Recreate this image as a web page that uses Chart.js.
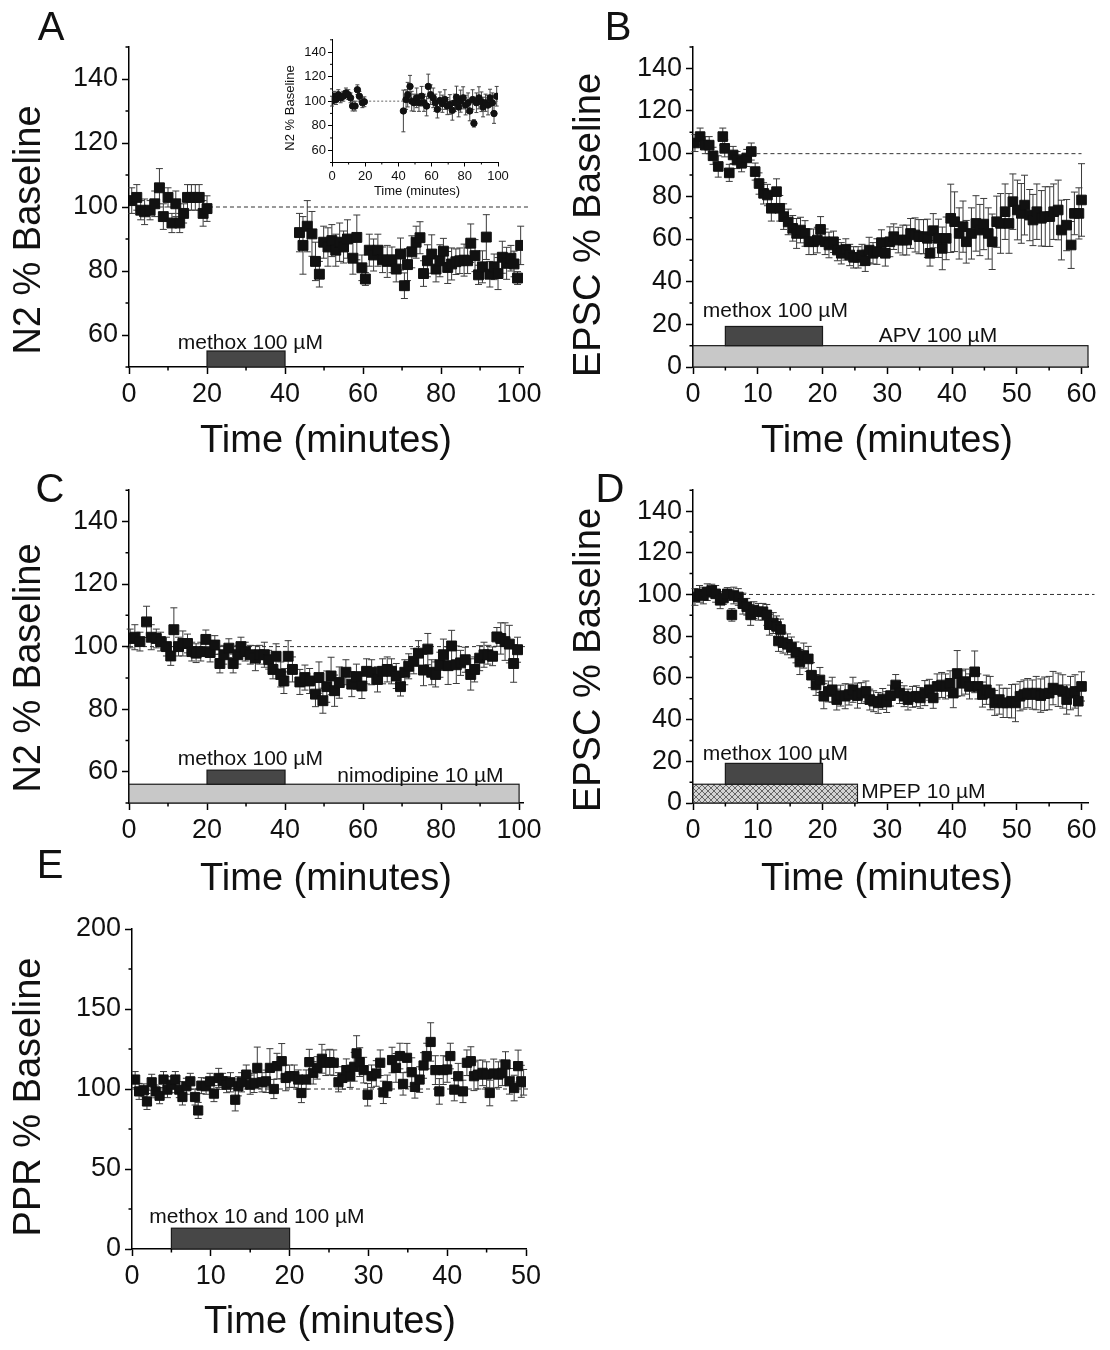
<!DOCTYPE html>
<html>
<head>
<meta charset="utf-8">
<script src="https://cdn.jsdelivr.net/npm/chart.js@4.4.1/dist/chart.umd.min.js"></script>
<style>
  html, body { margin: 0; padding: 0; background: #fff; }
  #fig { position: relative; width: 1110px; height: 1350px; }
  #fig canvas { position: absolute; }
</style>
</head>
<body>
<div id="fig">
  <canvas id="cA" width="555" height="470" style="left:0;top:0"></canvas>
  <canvas id="cInset" width="250" height="180" style="left:270px;top:30px"></canvas>
  <canvas id="cB" width="555" height="470" style="left:555px;top:0"></canvas>
  <canvas id="cC" width="555" height="430" style="left:0;top:470px"></canvas>
  <canvas id="cD" width="555" height="430" style="left:555px;top:470px"></canvas>
  <canvas id="cE" width="555" height="500" style="left:0;top:850px"></canvas>
</div>
<script>
const FONT = '"Liberation Sans", Arial, sans-serif';

// ── Panel A : N2 ────────────────────────────────────────────────────────────
const aTime  = [0.7,2,3,4,5.4,6.6,7.8,8.8,10,11,12,13,14,15,16,17,18,19,20,
  43.7,44.6,45.7,46.9,47.8,48.8,49.9,51,52,53,54,55,56,57.4,58.4,59.7,60.6,61.6,62.7,63.8,
  65,66.2,67.4,68.5,69.6,70.6,71.4,72.5,73.6,74.6,75.5,76.5,77.6,78.7,79.7,80.6,81.7,82.7,83.8,
  84.8,85.9,86.8,87.6,88.7,89.6,90.6,91.6,92.5,93.6,94.6,95.7,96.8,97.9,98.7,99.6,100.4];
const aValue = [102,103,99,98.5,99,101,106,97,103,95,101,95,98,103,103,103,103,98,99.5,
  92,88,94,91.6,83,79,89,87.5,89.5,86.5,89,87.5,90,84,90.5,81,77.5,86.5,85,86.5,
  83.5,83,83.5,80.6,85.3,75.4,82,86,89,90.4,79.2,83.2,85.3,80.6,83.2,86.2,81.1,82.2,82.9,
  83.2,83.4,83.2,88.7,84.8,78.8,81.3,90.6,79,81.3,79.2,84.3,82.4,84,82.2,77.8,88];
const aErr   = [4,4,3,4,3,4,6,4,3,3,4,3,3,4,4,4,4,4,4,
  6,9,8,7,6,4,5,6,5,5,6,5,6,5,7,4,2,5,5,5,
  4,5,4,4,5,4,5,5,5,5,4,5,6,4,5,4,5,5,4,
  4,5,4,6,5,3,5,7,4,4,5,5,5,4,4,2,6];
const aXTicks = [0, 20, 40, 60, 80, 100];
const aYTicks = [60, 80, 100, 120, 140];
const aMethox = [20, 40];

// inset of A
const insetTime  = [0,1.2,2.4,3.8,5.2,6.8,8.4,9.8,11.2,12.4,13.9,15.3,16.5,18.3,19.5,
  43,44.6,45.6,47,48,49.4,51,52.4,54,55.4,57,58,59.4,61,62.2,63.5,65,66.5,68,69.5,
  71,72.5,74,75,76.3,77.5,79,80.5,82,83,84.7,85.5,87,88.5,90,91,92.5,94,95.2,96.6,97.6,99.2];
const insetValue = [100,104,101.3,105.3,102.7,104,106.7,105.3,102.7,96,96,109.3,104,98.7,99.5,
  92,101.3,105.3,112,100,98.7,102.7,98.7,104,98.7,96,112,105.3,102.7,98.7,93.3,100.5,97.9,101.3,96,
  97.3,92.5,98.7,103.2,95.2,100,102.7,96.8,98.7,92,101.3,81.9,98.7,102.7,99.5,95.2,98.7,96.8,102.7,98.7,89.9,104];
const insetErr   = [4,4,4,4,4,4,4,4,4,4,4,4,4,4,4,
  17,8,10,9,8,7,8,7,8,7,8,10,8,8,7,7,7,7,8,7,
  8,8,7,9,8,9,9,8,8,8,8,3,8,9,8,8,7,8,7,8,8,8];
const insetXTicks = [0, 20, 40, 60, 80, 100];
const insetYTicks = [60, 80, 100, 120, 140];

// ── Panel B : EPSC, APV ──────────────────────────────────────────────────────
const bTime  = [0.3,1.1,1.9,2.5,3.1,3.9,4.6,4.9,5.6,6.2, 6.8,7.5,8.3,9,9.6,10.2,10.9,11.5,12.1,12.9,
  13.4,14,14.7,15.4,16,16.6,17.3,17.9,18.6,19.2, 19.7,20.4,21,21.7,22.3,22.9,23.6,24.2,24.8,25.5,
  26.1,26.6,27.2,27.8,28.4,29.1,29.7,30.4,31,31.7, 32.4,33,33.6,34.3,34.9,35.6,36.2,36.6,37.1,37.9,
  38.5,39.1,39.8,40.4,41.1,41.7,42.2,43,43.7,44.3, 44.9,45.6,46.2,46.9,47.5,48.2,48.8,49.4,50.1,50.7,
  51.2,52,52.5,53.1,53.8,54.4,55.1,55.7,56.4,56.9, 57.7,58.4,58.9,59.6,60];
const bValue = [105,108,104,104,99,94,108,102.5,91,99.4, 97,95.5,98,101,91.6,86,81.4,80.6,74.4,82.2,
  74.4,70.5,68,65,62.6,64.2,62.6,58.7,58.7,59.5, 64.5,58.7,57.2,58.7,54.8,53.3,55.1,52.5,51.4,51.4,
  52.5,49.8,54.8,53.3,54.1,58.3,53.3,58.7,61.1,59.5, 59.5,59.5,62.6,61.9,61.1,61.1,60.3,53.3,63.9,60.3,
  55.6,60.3,69.7,68.1,62.6,65.8,58.7,62.6,67.3,64.2, 67,62.6,58.7,68.1,67.3,72.8,67.3,77.5,73.6,72,
  75.9,71.2,68.9,72.8,69.7,70.5,70.5,72.8,73.6,64.2, 66.5,57.2,72,72,78.3];
const bErr   = [4,4,4,4,4,5,4,4,4,4, 4,4,4,4,4,5,5,5,6,6,
  6,6,6,6,7,6,6,6,6,6, 6,6,6,5,5,5,5,5,5,5,
  5,5,6,5,6,6,6,7,6,6, 7,7,7,8,8,8,9,6,8,9,
  10,10,16,14,12,12,10,12,13,12, 12,12,13,12,14,13,14,13,14,14,
  14,12,12,13,13,14,14,13,14,14, 12,11,10,12,17];
const bXTicks = [0, 10, 20, 30, 40, 50, 60];
const bYTicks = [0, 20, 40, 60, 80, 100, 120, 140];
const bMethox = [5, 20];
const bApv    = [0, 61];

// ── Panel C : N2, nimodipine ─────────────────────────────────────────────────
const cTime  = [0.3,1.5,2.8,4.5,5.7,7,8.1,9.6,10.7,11.5, 12.7,13.8,15,16.1,17.2,18.4,19.7,20.8,22,23.3,
  24.3,25.6,26.7,27.9,28.7,29.8,31.1,32.4,33.5,34.7, 35.8,36.9,37.7,38.9,39.7,40.8,41.9,43.8,45.1,46.3,
  47.8,48.7,49.7,50.7,51.8,52.7,53.9,55.6,57.1,58.3, 59.7,60.9,62.2,63.7,65,66.2,67.3,68.5,69.6,70.7,
  71.7,73,74.2,75.5,76.6,77.6,78.6,79.7,80.6,81.8, 82.7,83.9,85,86.2,87.6,88.6,89.9,91,92,93.2,
  94.3,95.3,96.4,97.5,98.6,99.6];
const cValue = [102.6,103,101.6,107.9,103,102.6,101.6,100,97,105.4, 100,101,101,98.4,97.9,98.4,102.3,98.1,100.5,94.6,
  97.4,99.5,94.6,97.4,100,98.4,97.4,96.3,97.4,97.4, 95.8,92.7,96.9,91.1,89,96.9,92.7,88.7,90.1,89,
  84.8,90.1,82.7,87.2,90.6,85.9,88.5,91.8,88,90.4, 87.4,92.1,91.8,89.5,92.1,92.7,92.1,90.6,87.2,91.8,
  93.7,95.3,97.9,92.5,99.2,91.8,91.1,94.2,97.4,93.9, 100.2,94.2,94.8,95.8,91.1,92.7,96.3,97.4,97.4,96.9,
  103.1,102.6,101.6,100.8,94.6,99];
const cErr   = [3,4,3,5,4,3,3,3,3,7, 3,4,3,3,3,3,3,3,3,3,
  3,3,3,3,3,3,3,4,3,4, 3,3,4,4,4,5,4,4,4,4,
  4,5,4,5,6,5,5,4,4,4, 4,4,4,4,4,4,4,4,3,4,
  4,4,4,5,5,4,4,4,5,6, 5,6,4,4,5,4,4,4,3,3,
  3,5,6,6,6,4];
const cXTicks = [0, 20, 40, 60, 80, 100];
const cYTicks = [60, 80, 100, 120, 140];
const cMethox     = [20, 40];
const cNimodipine = [0, 100];

// ── Panel D : EPSC, MPEP ─────────────────────────────────────────────────────
const dTime  = [0.3,1,1.6,2.2,2.9,3.5,4.2,4.7,5.3,6, 6.3,7,7.7,8.3,8.9,9.4,10.1,10.8,11.4,11.8,
  12.4,12.9,13.2,13.5,13.9,14.6,15.2,15.9,16.5,17.1, 17.8,18.3,19,19.6,20.2,20.9,21.5,22.2,22.8,23.5,
  24.1,24.7,25.4,26,26.7,27.3,27.9,28.6,29.3,29.9, 30.5,31.3,31.9,32.6,33.2,33.9,34.5,35.1,35.8,36.5,
  37.1,37.7,38.4,39,39.7,40.2,40.8,41.5,42.1,42.7, 43.5,44,44.7,45.3,45.9,46.6,47.3,47.9,48.5,49.2,
  49.8,50.5,51.1,51.7,52.4,53,53.7,54.3,55,55.6, 56.4,57.1,57.7,58.3,59,59.5,60];
const dValue = [98.8,100.3,99.5,101.1,101.9,100.3,97.2,98.3,100.3,90.2, 99.5,98.8,95.6,94.1,90.2,92.5,91.7,91.7,90.2,85.5,
  86.3,84.7,77.7,83.2,76.9,76.1,74.6,72.2,67.6,70.7, 69.1,61.3,56.6,59,51.2,53.5,54.3,49.6,51.5,51.2,
  52,54.3,51.5,52.7,53.5,49.6,48.8,48,49.9,48.4, 51.5,56.6,52.7,51.2,49.6,50.9,51.2,50.4,52.7,54.3,
  50.4,55.9,56.6,55.9,57.4,52.7,62.1,57.4,58.2,55.9, 62.9,55.9,52,54.3,52.7,48,49.6,48,48,48.8,
  48,51.2,52,52.7,52,52.7,51.5,52.4,52.7,55.1, 54.3,53.5,49.6,52.7,53.5,48.8,55.9];
const dErr   = [4,4,4,4,3,4,4,3,3,3, 4,4,5,4,5,4,4,4,5,5,
  5,5,5,5,5,5,5,5,6,6, 6,6,5,6,6,5,6,5,5,6,
  5,6,6,5,5,5,5,5,5,5, 5,5,5,5,5,5,5,5,6,5,
  5,6,6,6,6,7,11,6,6,6, 10,6,6,7,8,6,7,7,7,8,
  9,7,7,7,7,8,8,8,8,8, 8,8,7,8,8,7,7];
const dXTicks = [0, 10, 20, 30, 40, 50, 60];
const dYTicks = [0, 20, 40, 60, 80, 100, 120, 140];
const dMethox = [5, 20];
const dMpep   = [0, 25.4];

// ── Panel E : PPR ────────────────────────────────────────────────────────────
const eTime  = [0.4,0.9,1.5,1.9,2.5,3,3.5,4,4.5,5, 5.5,6,6.4,6.9,7.4,8,8.4,8.8,9.4,9.9,
  10.4,11,11.5,12,12.5,13.1,13.5,13.9,14.5,15, 15.5,15.9,16.5,17,17.5,18,18.4,19,19.5,20,
  20.6,21.1,21.5,22.1,22.5,23,23.5,24.1,24.6,25.1, 25.6,26.2,26.7,27.2,27.7,28.2,28.5,28.9,29.4,29.9,
  30.4,31,31.5,31.9,32.4,33,33.5,34,34.4,34.9, 35.5,35.9,36.5,37,37.4,37.9,38.5,39,39.5,40,
  40.4,40.9,41.4,42,42.5,43,43.4,43.9,44.5,45, 45.4,45.9,46.5,47,47.4,47.9,48.5,49,49.4,49.7];
const eValue = [105.9,98.5,99.2,92.2,104.2,98.5,95.8,105.9,99.6,102.7, 105.9,99.6,95,101.7,104.8,95,86.6,102.1,101.7,104.8,
  97.1,106.9,104.8,102.7,104.2,93.3,101.7,104.2,109,102.7, 103.8,113.2,104.2,104.8,113.2,100,114.3,117.4,106.9,108,
  108,105.9,97.5,105.9,116.8,110.1,113.2,118.9,116.4,116.8, 116.4,104.2,106.9,111.8,108,113.9,122.3,116.8,111.8,96.4,
  108,109.7,116.4,97.9,101.7,118.1,113.2,120.6,103.2,119.5, 110.5,101.3,105.9,114.7,120.6,129.4,111.8,98.5,111.8,112.2,
  120.6,99.6,108,98.5,116.4,117.4,108,109,110.1,109, 97.5,109.7,109,110.1,115.3,104.8,100.6,114.3,104.8,104.2];
const eErr   = [5,5,4,5,5,4,5,5,5,5, 5,5,5,5,5,5,5,5,5,5,
  5,6,5,5,6,7,6,6,6,6, 6,13,6,7,12,6,8,11,8,7,
  7,6,6,6,8,7,7,9,8,8, 8,6,7,7,7,9,11,9,8,7,
  7,8,8,7,7,8,9,8,7,9, 9,7,8,8,8,12,9,8,9,8,
  8,7,8,7,8,9,9,9,8,8, 8,9,8,8,8,8,8,10,10,8];
const eXTicks = [0, 10, 20, 30, 40, 50];
const eYTicks = [0, 50, 100, 150, 200];
const eMethox = [5, 20];

// ── Helpers ──────────────────────────────────────────────────────────────────

const pts = (t, v) => t.map((x, i) => ({ x, y: v[i] }));

// minor ticks halfway between the labelled ones, inside the axis range
function minors(ticks, lo, hi) {
  const step = ticks[1] - ticks[0];
  const out = [];
  for (let v = ticks[0] - step / 2; v <= hi + 1e-9; v += step) if (v >= lo - 1e-9) out.push(v);
  return out;
}

function hatchPattern(ctx) {
  const c = document.createElement('canvas');
  c.width = c.height = 6;
  const g = c.getContext('2d');
  g.fillStyle = '#d4d4d4'; g.fillRect(0, 0, 6, 6);
  g.strokeStyle = '#5a5a5a'; g.lineWidth = 0.9;
  g.beginPath();
  g.moveTo(0, 0); g.lineTo(6, 6);
  g.moveTo(6, 0); g.lineTo(0, 6);
  g.stroke();
  return ctx.createPattern(c, 'repeat');
}

// bars, error bars, minor ticks and all free text, placed through the chart scales
function decor(p) {
  return {
    id: 'decor',
    beforeDatasetsDraw(chart) {
      const { ctx, scales: { x, y } } = chart;
      ctx.save();
      (p.bars || []).forEach(b => {
        const l = x.getPixelForValue(b.span[0]), r = x.getPixelForValue(b.span[1]);
        const t = y.getPixelForValue(b.top), bt = y.getPixelForValue(b.bottom);
        ctx.fillStyle = b.fill === 'hatch' ? hatchPattern(ctx) : b.fill;
        ctx.fillRect(l, t, r - l, bt - t);
        ctx.strokeStyle = '#1a1a1a';
        ctx.lineWidth = 1.2;
        ctx.strokeRect(l, t, r - l, bt - t);
      });
      ctx.strokeStyle = p.errColor;
      ctx.lineWidth = 1;
      p.time.forEach((tx, i) => {
        const px = x.getPixelForValue(tx);
        const hi = y.getPixelForValue(p.value[i] + p.err[i]);
        const lo = y.getPixelForValue(p.value[i] - p.err[i]);
        ctx.beginPath();
        ctx.moveTo(px, hi); ctx.lineTo(px, lo);
        ctx.moveTo(px - p.cap, hi); ctx.lineTo(px + p.cap, hi);
        ctx.moveTo(px - p.cap, lo); ctx.lineTo(px + p.cap, lo);
        ctx.stroke();
      });
      ctx.restore();
    },
    afterDraw(chart) {
      const { ctx, chartArea: a, scales: { x, y } } = chart;
      ctx.save();
      // minor ticks
      ctx.strokeStyle = '#000';
      ctx.lineWidth = p.axisW;
      ctx.beginPath();
      minors(p.xTicks, p.xRange[0], p.xRange[1]).forEach(v => {
        const px = x.getPixelForValue(v);
        ctx.moveTo(px, a.bottom); ctx.lineTo(px, a.bottom + p.tickLen / 2);
      });
      minors(p.yTicks, p.yRange[0], p.yRange[1]).forEach(v => {
        const py = y.getPixelForValue(v);
        ctx.moveTo(a.left, py); ctx.lineTo(a.left - p.tickLen / 2, py);
      });
      ctx.stroke();

      ctx.fillStyle = '#111';
      // drug labels (data coordinates)
      ctx.font = `${p.labelSize}px ${FONT}`;
      ctx.textAlign = 'left';
      ctx.textBaseline = 'alphabetic';
      (p.labels || []).forEach(l => ctx.fillText(l.text, x.getPixelForValue(l.x), y.getPixelForValue(l.y)));

      // axis titles and panel letter
      ctx.textAlign = 'center';
      ctx.textBaseline = 'middle';
      ctx.font = `${p.titleSize}px ${FONT}`;
      ctx.fillText(p.xTitle.text, p.xTitle.at[0], p.xTitle.at[1]);
      ctx.save();
      ctx.translate(p.yTitle.at[0], p.yTitle.at[1]);
      ctx.rotate(-Math.PI / 2);
      ctx.fillText(p.yTitle.text, 0, 0);
      ctx.restore();
      if (p.letter) {
        ctx.font = `${p.letterSize}px ${FONT}`;
        ctx.fillText(p.letter.text, p.letter.at[0], p.letter.at[1]);
      }
      ctx.restore();
    }
  };
}

function makePanel(id, p) {
  const ctx = document.getElementById(id).getContext('2d');
  const tickFont = { family: FONT, size: p.tickSize };
  const border = { display: true, color: '#000', width: p.axisW };
  const grid = { display: true, drawOnChartArea: false, drawTicks: true,
                 tickLength: p.tickLen, tickColor: '#000', tickWidth: p.axisW };
  return new Chart(ctx, {
    type: 'scatter',
    data: {
      datasets: [
        {
          data: pts(p.time, p.value),
          pointStyle: p.marker,
          pointRadius: p.radius,
          backgroundColor: '#111',
          borderColor: '#111',
          borderWidth: 1
        },
        {
          data: p.base.map(x => ({ x, y: 100 })),
          showLine: true,
          borderColor: p.baseColor,
          borderWidth: 1,
          borderDash: p.dash,
          pointRadius: 0,
          clip: false
        }
      ]
    },
    options: {
      responsive: false,
      animation: false,
      events: [],
      layout: { padding: p.pad },
      scales: {
        x: {
          type: 'linear', min: p.xRange[0], max: p.xRange[1],
          border, grid,
          ticks: { font: tickFont, color: '#111', padding: p.tickPad, includeBounds: false,
                   autoSkip: false, maxRotation: 0 },
          afterBuildTicks: s => { s.ticks = p.xTicks.map(value => ({ value })); },
          afterFit: s => { s.height = p.boxH; }
        },
        y: {
          type: 'linear', min: p.yRange[0], max: p.yRange[1],
          border, grid,
          ticks: { font: tickFont, color: '#111', padding: p.tickPad, includeBounds: false,
                   autoSkip: false },
          afterBuildTicks: s => { s.ticks = p.yTicks.map(value => ({ value })); },
          afterFit: s => { s.width = p.boxW; }
        }
      },
      plugins: { legend: { display: false }, tooltip: { enabled: false } }
    },
    plugins: [decor(p)]
  });
}

// shared look of the five big panels
const big = {
  marker: 'rect', radius: 7, cap: 3.5, errColor: '#3a3a3a',
  baseColor: '#333', dash: [4, 3],
  axisW: 1.5, tickLen: 7, tickPad: 4, tickSize: 27,
  labelSize: 21, titleSize: 38, letterSize: 40
};
const DARK = '#474747', LIGHT = '#c8c8c8';

makePanel('cA', { ...big,
  time: aTime, value: aValue, err: aErr, xTicks: aXTicks, yTicks: aYTicks,
  xRange: [0, 101], yRange: [50, 150],
  pad: { top: 47, right: 32, bottom: 0, left: 0 }, boxW: 129, boxH: 103,
  base: [20.5, 102.8],
  bars: [{ span: aMethox, bottom: 50, top: 55, fill: DARK }],
  labels: [{ text: 'methox 100 µM', x: 12.5, y: 55.6 }],
  xTitle: { text: 'Time (minutes)', at: [326, 442] },
  yTitle: { text: 'N2 % Baseline', at: [30, 230] },
  letter: { text: 'A', at: [51, 29] }
});

makePanel('cInset', { ...big,
  marker: 'circle', radius: 3.2, cap: 2, errColor: '#444',
  baseColor: '#666', dash: [2, 2],
  axisW: 1, tickLen: 4, tickPad: 2, tickSize: 13, titleSize: 13,
  time: insetTime, value: insetValue, err: insetErr, xTicks: insetXTicks, yTicks: insetYTicks,
  xRange: [0, 100], yRange: [50, 150],
  pad: { top: 7.5, right: 22, bottom: 0, left: 0 }, boxW: 62, boxH: 47.5,
  base: [20, 100],
  xTitle: { text: 'Time (minutes)', at: [147, 161] },
  yTitle: { text: 'N2 % Baseline', at: [20, 78] }
});

makePanel('cB', { ...big, radius: 6.8,
  time: bTime, value: bValue, err: bErr, xTicks: bXTicks, yTicks: bYTicks,
  xRange: [0, 61], yRange: [0, 150],
  pad: { top: 47, right: 22, bottom: 0, left: 0 }, boxW: 138, boxH: 103,
  base: [9.8, 60],
  bars: [{ span: bApv, bottom: 0, top: 10, fill: LIGHT },
         { span: bMethox, bottom: 10, top: 19, fill: DARK }],
  labels: [{ text: 'methox 100 µM', x: 1.5, y: 23.4 },
           { text: 'APV 100 µM', x: 28.7, y: 11.7 }],
  xTitle: { text: 'Time (minutes)', at: [332, 442] },
  yTitle: { text: 'EPSC % Baseline', at: [35, 225] },
  letter: { text: 'B', at: [63, 29] }
});

makePanel('cC', { ...big,
  time: cTime, value: cValue, err: cErr, xTicks: cXTicks, yTicks: cYTicks,
  xRange: [0, 101], yRange: [50, 150],
  pad: { top: 13, right: 32, bottom: 0, left: 0 }, boxW: 129, boxH: 97,
  base: [0, 101.5],
  bars: [{ span: cNimodipine, bottom: 50, top: 56, fill: LIGHT },
         { span: cMethox, bottom: 56, top: 60.5, fill: DARK }],
  labels: [{ text: 'methox 100 µM', x: 12.5, y: 62.2 },
           { text: 'nimodipine 10 µM', x: 53.4, y: 56.6 }],
  xTitle: { text: 'Time (minutes)', at: [326, 410] },
  yTitle: { text: 'N2 % Baseline', at: [30, 198] },
  letter: { text: 'C', at: [50, 21] }
});

makePanel('cD', { ...big, radius: 6.8,
  time: dTime, value: dValue, err: dErr, xTicks: dXTicks, yTicks: dYTicks,
  xRange: [0, 61], yRange: [0, 150],
  pad: { top: 13, right: 22, bottom: 0, left: 0 }, boxW: 138, boxH: 97,
  base: [0, 62],
  bars: [{ span: dMpep, bottom: 0, top: 9, fill: 'hatch' },
         { span: dMethox, bottom: 9, top: 19, fill: DARK }],
  labels: [{ text: 'methox 100 µM', x: 1.5, y: 20.6 },
           { text: 'MPEP 10 µM', x: 26, y: 2.3 }],
  xTitle: { text: 'Time (minutes)', at: [332, 410] },
  yTitle: { text: 'EPSC % Baseline', at: [35, 190] },
  letter: { text: 'D', at: [55, 21] }
});

makePanel('cE', { ...big, radius: 6.5,
  time: eTime, value: eValue, err: eErr, xTicks: eXTicks, yTicks: eYTicks,
  xRange: [0, 50], yRange: [0, 200],
  pad: { top: 79, right: 29, bottom: 0, left: 0 }, boxW: 132, boxH: 101,
  base: [0, 50.5],
  bars: [{ span: eMethox, bottom: 0, top: 13, fill: DARK }],
  labels: [{ text: 'methox 10 and 100 µM', x: 2.2, y: 16.3 }],
  xTitle: { text: 'Time (minutes)', at: [330, 473] },
  yTitle: { text: 'PPR % Baseline', at: [30, 247] },
  letter: { text: 'E', at: [50, 17] }
});
</script>
</body>
</html>
